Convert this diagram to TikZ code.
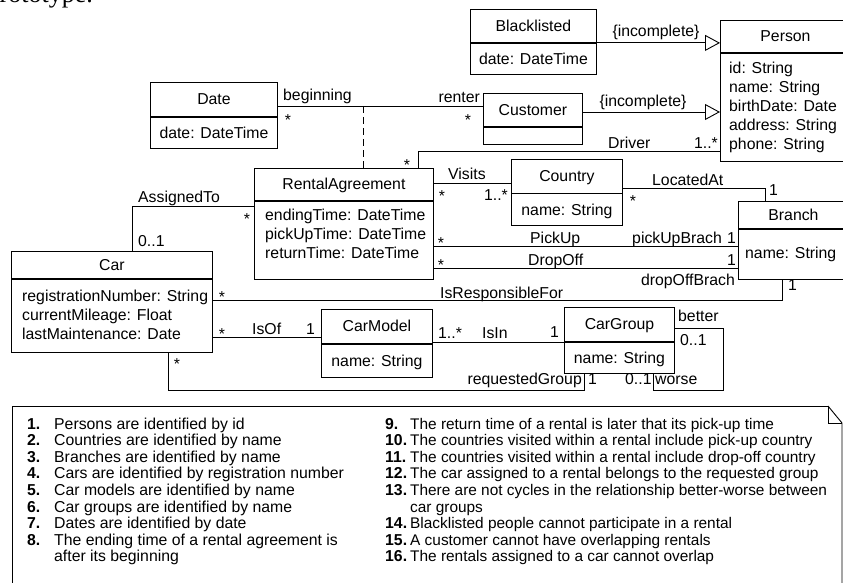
\documentclass[tikz,border=0pt]{standalone}
\usepackage{fontspec}
\setmainfont{Liberation Sans}
\newfontfamily\serifpart{Liberation Serif}
\usetikzlibrary{arrows.meta,calc}
\newcommand\umlfont{\fontsize{15.8}{19}\selectfont}
\newcommand\notefont{\fontsize{15.4}{19}\selectfont}
\newcommand\umlclass[8]{%
  \node[hdr, minimum width=#4pt, minimum height=#5pt] (#1) at (#2,#3) {#7};
  \node[hdr, minimum width=#4pt, minimum height=#6pt] (#1-a) at (#1.south west) {#8};
}
\newcommand\noteitem[5]{%
  \node[txt, anchor=base west] (nn#4) at (#1,#3) {\bfseries #4.};
  \node[txt, anchor=base west] (nt#4) at (#2,#3) {#5};
}
\newcommand\noteitemr[5]{%
  \node[txt, anchor=base west] (nn#4) at (#1,#3) {\bfseries #4.};
  \node[txt, anchor=base west, font=\notefont] (nt#4) at (#2,#3) {#5};
}
\tikzset{
  hdr/.style={draw, line width=0.9pt, inner sep=0pt, anchor=north west, text height=11pt, text depth=0pt, font=\umlfont},
  txt/.style={inner sep=0pt, font=\umlfont},
  conn/.style={line width=0.9pt},
  gen/.style={line width=0.9pt, -{Triangle[open, length=15pt, width=16pt]}},
}
\begin{document}
\begin{tikzpicture}[x=1pt,y=-1pt]
\useasboundingbox (0,0) rectangle (843,583);
\begin{scope}
\clip (0,0) rectangle (843,583);
% fragment of page text, cut off at the top edge
\node[inner sep=0pt, anchor=base east, font=\serifpart\fontsize{26}{26}\selectfont] (frag) at (93,3) {prototype.};
% classes
\umlclass{blk}{470}{9}{126}{33}{31}{Blacklisted}{date: DateTime}
\umlclass{pers}{720}{20}{130}{32}{108}{Person}{}
\umlclass{date}{150}{82}{127}{34}{31}{Date}{date: DateTime}
\umlclass{cus}{483}{93}{99}{33}{17}{Customer}{}
\umlclass{ra}{254}{168}{179}{32}{78}{RentalAgreement}{}
\umlclass{cty}{511}{159}{111}{33.5}{31.5}{Country}{name: String}
\umlclass{br}{738}{201}{110}{27}{50}{Branch}{}
\umlclass{car}{11}{251}{201}{27}{73}{Car}{}
\umlclass{cm}{321}{309}{111}{34}{33}{CarModel}{name: String}
\umlclass{cg}{564}{307}{110}{34}{31}{CarGroup}{name: String}
\foreach \t [count=\i from 0] in {id: String, name: String, birthDate: Date, address: String, phone: String}
  \node[txt, anchor=base west] (pers-\i) at (729,{73.5+19*\i}) {\t};
\foreach \t [count=\i from 0] in {endingTime: DateTime, pickUpTime: DateTime, returnTime: DateTime}
  \node[txt, anchor=base west] (ra-\i) at (265,{220.5+19*\i}) {\t};
\foreach \t [count=\i from 0] in {registrationNumber: String, currentMileage: Float, lastMaintenance: Date}
  \node[txt, anchor=base west] (car-\i) at (22,{301+19*\i}) {\t};
\node[txt, anchor=base west] (br-0) at (745,258.5) {name: String};
% connectors
\draw[gen] (blk-a.north east) -- (pers.west |- blk-a.north east);
\draw[gen] (cus.east |- 0,112) -- (pers-a.west |- 0,112);
\draw[conn] (date.east |- 0,106) -- (cus.west |- 0,106);
\coordinate (assoc) at (363,106);
\draw[conn, dash pattern=on 7pt off 4pt] (assoc) -- (assoc |- ra.north);
\draw[conn] (ra.north -| 418,0) |- (pers-a.west |- 0,151);
\draw[conn] (car.north -| 132,0) |- (ra-a.west |- 0,206);
\draw[conn] (ra.east |- 0,183) -- (cty.west |- 0,183);
\draw[conn] (cty.east |- 0,188) -| (br.north -| 765,0);
\draw[conn] (ra-a.east |- 0,246) -- (br-a.west |- 0,246);
\draw[conn] (ra-a.east |- 0,268) -- (br-a.west |- 0,268);
\draw[conn] (car-a.east |- 0,300) -| (br-a.south -| 782,0);
\draw[conn] (car-a.east |- 0,337.5) -- (cm.west |- 0,337.5);
\draw[conn] (cm.east |- 0,342) -- (cg-a.west |- 0,342);
\coordinate (loopc) at (723,390);
\draw[conn] (cg.east |- 0,328) -| (loopc) -| (cg-a.south -| 653,0);
\coordinate (reqc) at (584,390);
\draw[conn] (car-a.south -| 168,0) |- (reqc) -- (cg-a.south -| reqc);
% labels
\node[txt, anchor=base] (l1) at (656,37) {\{incomplete\}};
\node[txt, anchor=base] (l2) at (643,107) {\{incomplete\}};
\node[txt, anchor=base west] (l3) at (283,101) {beginning};
\node[txt, anchor=base] (l4) at (288,125) {*};
\node[txt, anchor=base east] (l5) at (480,103) {renter};
\node[txt, anchor=base] (l6) at (468,126) {*};
\node[txt, anchor=base west] (l7) at (608,148) {Driver};
\node[txt, anchor=base east] (l8) at (718,148) {1..*};
\node[txt, anchor=base] (l9) at (407,171) {*};
\node[txt, anchor=base west] (l10) at (138,202) {AssignedTo};
\node[txt, anchor=base west] (l11) at (138,246) {0..1};
\node[txt, anchor=base] (l12) at (247,224) {*};
\node[txt, anchor=base west] (l13) at (448,179) {Visits};
\node[txt, anchor=base] (l14) at (442,201) {*};
\node[txt, anchor=base east] (l15) at (508,200) {1..*};
\node[txt, anchor=base west] (l16) at (652,185.5) {LocatedAt};
\node[txt, anchor=base] (l17) at (633,206) {*};
\node[txt, anchor=base west] (l18) at (769,195) {1};
\node[txt, anchor=base west] (l19) at (530,243) {PickUp};
\node[txt, anchor=base east] (l20) at (722,243) {pickUpBrach};
\node[txt, anchor=base west] (l21) at (727,243) {1};
\node[txt, anchor=base] (l22) at (441,248) {*};
\node[txt, anchor=base west] (l23) at (528,265) {DropOff};
\node[txt, anchor=base west] (l24) at (727,265) {1};
\node[txt, anchor=base] (l25) at (441,270) {*};
\node[txt, anchor=base east] (l26) at (735,285) {dropOffBrach};
\node[txt, anchor=base west] (l27) at (440,298) {IsResponsibleFor};
\node[txt, anchor=base west] (l28) at (788,290) {1};
\node[txt, anchor=base] (l29) at (222,302) {*};
\node[txt, anchor=base west] (l30) at (252,334) {IsOf};
\node[txt, anchor=base] (l31) at (222,339) {*};
\node[txt, anchor=base east] (l32) at (315,334) {1};
\node[txt, anchor=base west] (l33) at (438,338) {1..*};
\node[txt, anchor=base west] (l34) at (482,338) {IsIn};
\node[txt, anchor=base east] (l35) at (559,337) {1};
\node[txt, anchor=base west] (l36) at (678,321) {better};
\node[txt, anchor=base west] (l37) at (680,345) {0..1};
\node[txt, anchor=base west] (l38) at (655,384) {worse};
\node[txt, anchor=base west] (l39) at (625,384) {0..1};
\node[txt, anchor=base east] (l40) at (582,384) {requestedGroup};
\node[txt, anchor=base west] (l41) at (588,384) {1};
\node[txt, anchor=base] (l42) at (177,369) {*};
% note
\draw[conn] (828,406) -- (12,406) -- (12,584);
\draw[conn] (828,406) -- (842,423) -- (842,584);
\draw[conn] (828,406) -- (828,423) -- (842,423);
\noteitem{27}{54}{429}{1}{Persons are identified by id}
\noteitem{27}{54}{445.6}{2}{Countries are identified by name}
\noteitem{27}{54}{462.2}{3}{Branches are identified by name}
\noteitem{27}{54}{478.8}{4}{Cars are identified by registration number}
\noteitem{27}{54}{495.4}{5}{Car models are identified by name}
\noteitem{27}{54}{512}{6}{Car groups are identified by name}
\noteitem{27}{54}{528.6}{7}{Dates are identified by date}
\noteitem{27}{54}{545.2}{8}{The ending time of a rental agreement is}
\node[txt, anchor=base west] (nt8b) at (54,561.8) {after its beginning};
\noteitemr{385}{410}{429}{9}{The return time of a rental is later that its pick-up time}
\noteitemr{385}{410}{445.6}{10}{The countries visited within a rental include pick-up country}
\noteitemr{385}{410}{462.2}{11}{The countries visited within a rental include drop-off country}
\noteitemr{385}{410}{478.8}{12}{The car assigned to a rental belongs to the requested group}
\noteitemr{385}{410}{495.4}{13}{There are not cycles in the relationship better-worse between}
\node[txt, anchor=base west, font=\notefont] (nt13b) at (410,512) {car groups};
\noteitemr{385}{410}{528.6}{14}{Blacklisted people cannot participate in a rental}
\noteitemr{385}{410}{545.2}{15}{A customer cannot have overlapping rentals}
\noteitemr{385}{410}{561.8}{16}{The rentals assigned to a car cannot overlap}
\end{scope}
\end{tikzpicture}
\end{document}
